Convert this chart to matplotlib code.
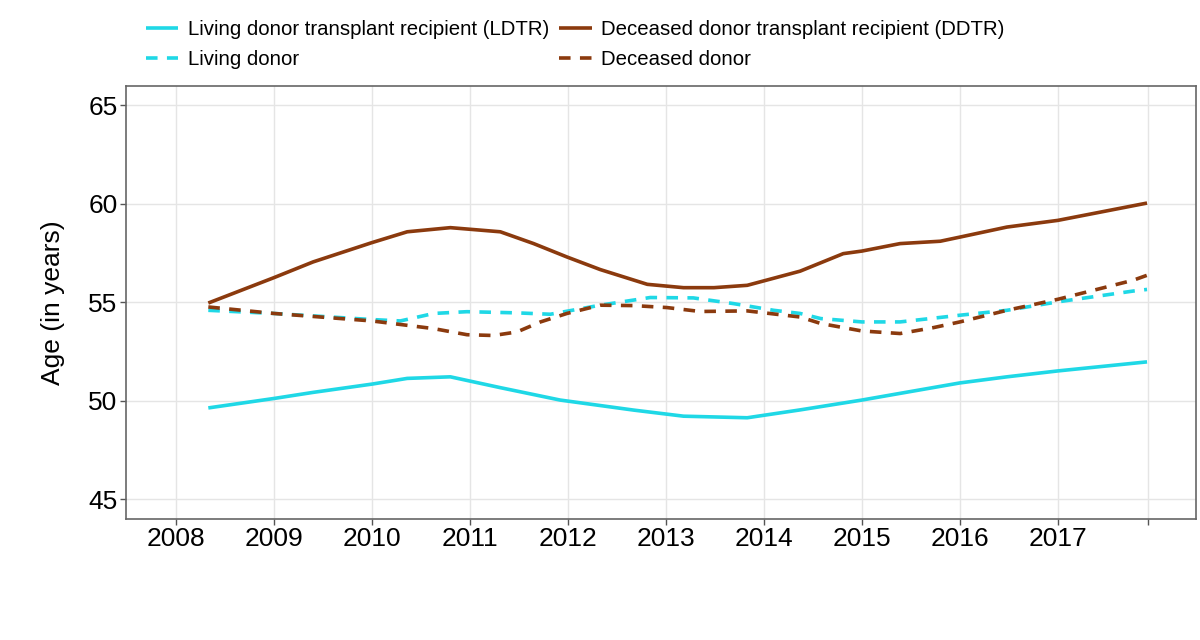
import matplotlib
matplotlib.use("Agg")
import matplotlib.pyplot as plt
import numpy as np

plt.rcParams['font.family'] = ['Liberation Sans', 'DejaVu Sans']

# Data (fractional years, age in years)
ldtr_x = [2008.33, 2009.0, 2009.40, 2010.0, 2010.36, 2010.80, 2011.31, 2011.92, 2012.67,
          2013.18, 2013.83, 2014.37, 2015.0, 2015.39, 2016.0, 2016.48, 2017.0, 2017.91]
ldtr_y = [49.63, 50.11, 50.42, 50.84, 51.13, 51.21, 50.66, 50.03, 49.52,
          49.21, 49.13, 49.53, 50.03, 50.37, 50.9, 51.21, 51.51, 51.97]

ddtr_x = [2008.33, 2009.0, 2009.40, 2010.0, 2010.36, 2010.80, 2011.31, 2011.65, 2011.99, 2012.33,
          2012.81, 2013.18, 2013.49, 2013.83, 2014.37, 2014.81, 2015.0, 2015.39, 2015.80, 2016.0,
          2016.48, 2017.0, 2017.91]
ddtr_y = [54.96, 56.25, 57.05, 58.03, 58.58, 58.79, 58.58, 57.98, 57.3, 56.66,
          55.91, 55.74, 55.74, 55.86, 56.58, 57.47, 57.6, 57.98, 58.1, 58.31,
          58.82, 59.16, 60.04]

ld_x = [2008.33, 2009.0, 2010.0, 2010.29, 2010.63, 2010.97, 2011.48, 2011.82, 2012.33, 2012.84,
        2013.28, 2013.69, 2014.10, 2014.37, 2014.58, 2015.0, 2015.39, 2016.0, 2016.48, 2017.0,
        2017.77, 2017.91]
ld_y = [54.59, 54.43, 54.12, 54.05, 54.43, 54.52, 54.46, 54.39, 54.85, 55.24,
        55.22, 54.93, 54.59, 54.43, 54.17, 54.0, 54.0, 54.34, 54.59, 55.02,
        55.57, 55.65]

dd_x = [2008.33, 2009.0, 2010.0, 2010.29, 2010.63, 2010.97, 2011.24, 2011.48, 2011.72, 2011.99,
        2012.33, 2012.67, 2013.01, 2013.35, 2013.83, 2014.37, 2014.58, 2015.0, 2015.39, 2015.73,
        2016.0, 2016.48, 2017.0, 2017.77, 2017.91]
dd_y = [54.76, 54.43, 54.05, 53.87, 53.66, 53.35, 53.31, 53.49, 54.0, 54.43,
        54.85, 54.83, 54.73, 54.53, 54.56, 54.25, 53.92, 53.54, 53.41, 53.71,
        54.0, 54.59, 55.15, 56.12, 56.37]

year_ticks = [2008, 2009, 2010, 2011, 2012, 2013, 2014, 2015, 2016, 2017, 2017.92]
year_labels = ['2008', '2009', '2010', '2011', '2012', '2013', '2014', '2015', '2016', '2017', '']
age_ticks = [45, 50, 55, 60, 65]

cyan = '#1FD8E6'
brown = '#8B3A0E'

fig = plt.figure(figsize=(12, 6.4), dpi=100)
ax = fig.add_axes([0.105, 0.1895, 0.8917, 0.6765])

lw = 2.6
dash = (0, (3.2, 2.6))
l1, = ax.plot(ldtr_x, ldtr_y, color=cyan, lw=lw, solid_capstyle='butt',
              label='Living donor transplant recipient (LDTR)')
l3, = ax.plot(ddtr_x, ddtr_y, color=brown, lw=lw, solid_capstyle='butt',
              label='Deceased donor transplant recipient (DDTR)')
l2, = ax.plot(ld_x, ld_y, color=cyan, lw=lw, linestyle=dash, dash_capstyle='butt',
              label='Living donor')
l4, = ax.plot(dd_x, dd_y, color=brown, lw=lw, linestyle=dash, dash_capstyle='butt',
              label='Deceased donor')

ax.set_xlim(2007.49, 2018.41)
ax.set_ylim(44, 66)
ax.set_xticks(year_ticks)
ax.set_xticklabels(year_labels)
ax.set_yticks(age_ticks)
ax.grid(True, color='#E5E5E5', lw=1.0)
ax.set_axisbelow(True)
ax.tick_params(axis='both', labelsize=19, length=4, color='#555555', width=1, pad=2)
ax.set_ylabel('Age (in years)', fontsize=19, labelpad=17)
for s in ax.spines.values():
    s.set_color('#666666')
    s.set_linewidth(1.2)

fig.legend(handles=[l1, l2, l3, l4], loc='upper left', bbox_to_anchor=(0.1062, 0.998),
           ncol=2, frameon=False, fontsize=14.7, handlelength=1.6, handletextpad=0.45,
           columnspacing=0.5, labelspacing=0.55)

fig.savefig('out.png', dpi=100, facecolor='white')
